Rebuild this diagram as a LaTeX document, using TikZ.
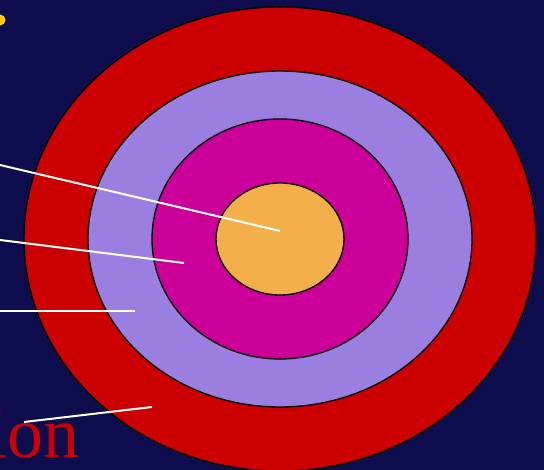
\documentclass[tikz,border=0pt]{standalone}
\usepackage{fontspec}
\setmainfont{Liberation Serif}
\usetikzlibrary{positioning}
\definecolor{navy}{RGB}{13,13,77}
\definecolor{ringred}{RGB}{204,0,0}
\definecolor{ringlav}{RGB}{155,127,224}
\definecolor{ringmag}{RGB}{204,0,153}
\definecolor{ringorg}{RGB}{242,175,74}
\definecolor{dotyel}{RGB}{255,204,0}

\begin{document}
\begin{tikzpicture}[x=0.75pt,y=-0.75pt,
  ring/.style={draw=black,line width=1pt},
  pointer/.style={draw=white,line width=1.5pt}]
\fill[navy] (0,0) rectangle (544,470);
\useasboundingbox (0,0) rectangle (544,470);
\begin{scope}
\clip (0,0) rectangle (544,470);
\coordinate (c) at (280,239);
\draw[ring,fill=ringred] (c) ellipse [x radius=256,y radius=232];
\draw[ring,fill=ringlav] (c) ellipse [x radius=192,y radius=168];
\draw[ring,fill=ringmag] (c) ellipse [x radius=128,y radius=120];
\draw[ring,fill=ringorg] (c) ellipse [x radius=64,y radius=56];
\fill[dotyel] (0,20) circle [radius=5.5];
\node[anchor=base east,inner sep=0pt,text=ringred,font=\fontsize{54}{60}\selectfont] (word) at (80,458) {ion};
\end{scope}
% pointers
\coordinate (p1s) at (0,165);  \coordinate (p1e) at (280,231);
\coordinate (p2s) at (0,240);  \coordinate (p2e) at (184,263);
\coordinate (p3s) at (0,311);  \coordinate (p3e) at (135,311);
\coordinate (p4s) at (24,422); \coordinate (p4e) at (152,407);
\draw[pointer] (p1s) -- (p1e);
\draw[pointer] (p2s) -- (p2e);
\draw[pointer] (p3s) -- (p3e);
\draw[pointer] (p4s) -- (p4e);
\end{tikzpicture}
\end{document}
